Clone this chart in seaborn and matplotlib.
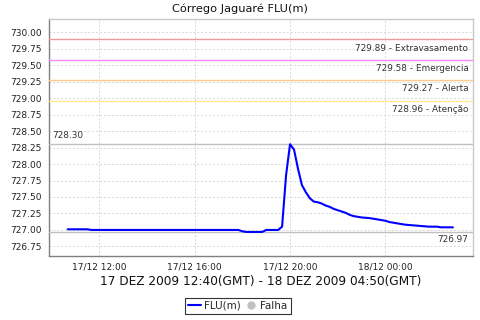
import matplotlib
matplotlib.use("Agg")
import matplotlib.pyplot as plt
import matplotlib.dates as mdates
from matplotlib.lines import Line2D
import matplotlib.transforms as mtransforms
import numpy as np
import pandas as pd
import seaborn as sns

# ---- data (local time, GMT-2) ----
times = [
    "2009-12-17 10:40", "2009-12-17 11:30", "2009-12-17 11:40", "2009-12-17 17:50",
    "2009-12-17 18:00", "2009-12-17 18:10", "2009-12-17 18:50", "2009-12-17 19:00",
    "2009-12-17 19:30", "2009-12-17 19:40", "2009-12-17 19:50", "2009-12-17 20:00",
    "2009-12-17 20:10", "2009-12-17 20:20", "2009-12-17 20:30", "2009-12-17 20:40",
    "2009-12-17 20:50", "2009-12-17 21:00", "2009-12-17 21:10", "2009-12-17 21:20",
    "2009-12-17 21:30", "2009-12-17 21:40", "2009-12-17 21:50", "2009-12-17 22:00",
    "2009-12-17 22:10", "2009-12-17 22:20", "2009-12-17 22:30", "2009-12-17 22:40",
    "2009-12-17 22:50", "2009-12-17 23:00", "2009-12-17 23:20", "2009-12-17 23:30",
    "2009-12-17 23:40", "2009-12-17 23:50", "2009-12-18 00:00", "2009-12-18 00:10",
    "2009-12-18 00:20", "2009-12-18 00:30", "2009-12-18 00:40", "2009-12-18 00:50",
    "2009-12-18 01:10", "2009-12-18 01:30", "2009-12-18 01:50", "2009-12-18 02:10",
    "2009-12-18 02:20", "2009-12-18 02:50",
]
levels = [
    727.01, 727.01, 727.00, 727.00,
    726.98, 726.97, 726.97, 727.00,
    727.00, 727.05, 727.83, 728.30,
    728.22, 727.93, 727.68, 727.57,
    727.48, 727.43, 727.42, 727.40,
    727.37, 727.35, 727.32, 727.30,
    727.28, 727.26, 727.23, 727.21,
    727.20, 727.19, 727.18, 727.17,
    727.16, 727.15, 727.14, 727.12,
    727.11, 727.10, 727.09, 727.08,
    727.07, 727.06, 727.05, 727.05,
    727.04, 727.04,
]
threshold_values = [729.89, 729.58, 729.27, 728.96]
threshold_names = ["Extravasamento", "Emergencia", "Alerta", "Atenção"]
threshold_colors = ["#ee9a9a", "#ff88ff", "#ffc88c", "#ffe890"]
max_value = 728.30
min_value = 726.97
y_ticks = [726.75, 727.00, 727.25, 727.50, 727.75, 728.00, 728.25,
           728.50, 728.75, 729.00, 729.25, 729.50, 729.75, 730.00]
x_ticks = ["2009-12-17 12:00", "2009-12-17 16:00", "2009-12-17 20:00", "2009-12-18 00:00"]
title = "Córrego Jaguaré FLU(m)"
xlabel = "17 DEZ 2009 12:40(GMT) - 18 DEZ 2009 04:50(GMT)"

df = pd.DataFrame({"time": pd.to_datetime(times), "value": levels})

sns.set_style("white")
plt.rcParams["font.family"] = ["DejaVu Sans"]

fig = plt.figure(figsize=(4.8, 3.2), dpi=100)
ax = fig.add_axes([49 / 480, 64 / 320, (472.7 - 49) / 480, (256 - 19) / 320])

sns.lineplot(data=df, x="time", y="value", color="#0000ff", linewidth=1.5,
             ax=ax, legend=False, zorder=5)

# threshold lines
trans = mtransforms.blended_transform_factory(ax.transAxes, ax.transData)
for v, n, c in zip(threshold_values, threshold_names, threshold_colors):
    ax.axhline(v, color=c, lw=1.0, zorder=3)
    ax.text(0.99, v - 0.13, f"{v:.2f} - {n}", transform=trans, ha="right",
            va="center", fontsize=6.4, color="#333333")
ax.axhline(max_value, color="#c0c0c0", lw=1.0, zorder=3)
ax.text(0.008, max_value + 0.13, f"{max_value:.2f}", transform=trans, ha="left",
        va="center", fontsize=6.4, color="#333333")
ax.axhline(min_value, color="#c0c0c0", lw=1.0, zorder=3)
ax.text(0.99, min_value - 0.12, f"{min_value:.2f}", transform=trans, ha="right",
        va="center", fontsize=6.4, color="#333333")

ax.set_xlim(pd.Timestamp("2009-12-17 09:53"), pd.Timestamp("2009-12-18 03:40"))
ax.set_ylim(726.605, 730.20)
ax.set_yticks(y_ticks)
ax.set_yticklabels([f"{t:.2f}" for t in y_ticks])
ax.set_xticks(pd.to_datetime(x_ticks))
ax.xaxis.set_major_formatter(mdates.DateFormatter("%d/%m %H:%M"))

ax.grid(True, color="#d8d8d8", linestyle=(0, (2, 2)), linewidth=0.7)
ax.set_axisbelow(True)
ax.tick_params(axis="both", labelsize=6.5, colors="#222222", length=2,
               color="#808080", width=0.7, pad=3)
for s in ["left", "bottom"]:
    ax.spines[s].set_color("#808080")
    ax.spines[s].set_linewidth(1.0)
for s in ["top", "right"]:
    ax.spines[s].set_color("#c8c8c8")
    ax.spines[s].set_linewidth(1.0)

fig.text(0.5, 1 - 9 / 320, title, fontsize=8.2, color="#111111",
         ha="center", va="center")
ax.set_xlabel(xlabel, fontsize=8.7, color="#111111", labelpad=2)
ax.set_ylabel("")

handles = [
    Line2D([], [], color="#0000ff", lw=1.5),
    Line2D([], [], color="#c0c0c0", marker="o", linestyle="None", markersize=5),
]
leg = fig.legend(handles, ["FLU(m)", "Falha"], loc="center",
                 bbox_to_anchor=(238 / 480, 1 - 306 / 320), ncol=2,
                 fontsize=7.5, frameon=True, fancybox=False, handlelength=1.2,
                 handletextpad=0.3, columnspacing=0.4, borderpad=0.3,
                 borderaxespad=0)
leg.get_frame().set_edgecolor("black")
leg.get_frame().set_linewidth(0.8)

fig.savefig("out.png", dpi=100)
